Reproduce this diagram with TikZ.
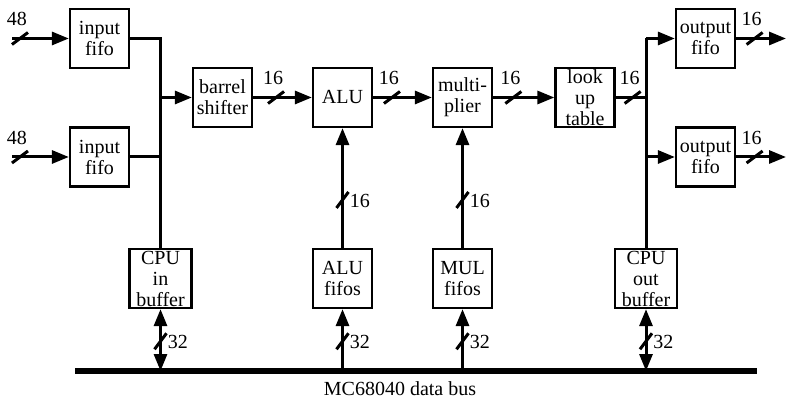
\documentclass[tikz,border=0pt]{standalone}
\usepackage{fontspec}
\setmainfont{Liberation Serif}
\usetikzlibrary{arrows.meta,positioning,calc}
\tikzset{
  unit/.style={draw,line width=1.15pt,minimum width=29.5pt,minimum height=29.5pt,
    inner sep=0pt,align=center,font=\fontsize{10pt}{10.5pt}\selectfont},
  wire/.style={line width=1.5pt},
  arr/.style={wire,-{Triangle[length=8.5pt,width=6.5pt]}},
  biarr/.style={wire,{Triangle[length=8.5pt,width=6.5pt]}-{Triangle[length=8.5pt,width=6.5pt]}},
  tick/.style={line width=1.5pt},
  lbl/.style={inner sep=0pt,font=\fontsize{10pt}{10.5pt}\selectfont},
}
\newcommand{\HTick}[2]{%
  \draw[tick] ($(#1)+(-8,6)$) -- ($(#1)+(8,-6)$);%
  \node[lbl,anchor=base] at ($(#1)+(-3,-12.5)$) {#2};%
}
\newcommand{\VTick}[2]{%
  \draw[tick] ($(#1)+(-6,8)$) -- ($(#1)+(6,-8)$);%
  \node[lbl,anchor=west] at ($(#1)+(7,1)$) {#2};%
}

\begin{document}
\begin{tikzpicture}[x=0.5pt,y=-0.5pt]
\useasboundingbox (0,0) rectangle (786,400);
% boxes
\node[unit] (inA) at (99.5,38.5) {input\\fifo};
\node[unit] (inB) at (99.5,157) {input\\fifo};
\node[unit] (barrel) at (222.5,97.5) {barrel\\shifter};
\node[unit] (alu) at (342.5,97.5) {ALU};
\node[unit] (mult) at (462.5,97.5) {multi-\\plier};
\node[unit] (lut) at (585,97.5) {look\\up\\table};
\node[unit] (outA) at (705.5,38.5) {output\\fifo};
\node[unit] (outB) at (705.5,157) {output\\fifo};
\node[unit,minimum width=31pt] (cpuin) at (160.5,278.5) {CPU\\in\\buffer};
\node[unit] (alufifo) at (342.5,278.5) {ALU\\fifos};
\node[unit] (mulfifo) at (462.5,278.5) {MUL\\fifos};
\node[unit,minimum width=31pt] (cpuout) at (646,278.5) {CPU\\out\\buffer};
% bus
\coordinate (busL) at (75,371);
\coordinate (busR) at (757,371);
\draw[line width=3pt] (busL) -- (busR);
\node[lbl,anchor=base] (buslbl) at (400,395) {MC68040 data bus};
% inputs
\coordinate (srcA) at (12,38.5);
\coordinate (srcB) at (12,157);
\draw[arr] (srcA) -- coordinate[pos=0.14] (tA) (inA.west);
\draw[arr] (srcB) -- coordinate[pos=0.14] (tB) (inB.west);
\HTick{tA}{48}
\HTick{tB}{48}
\draw[wire] (inA.east) -| (cpuin.north);
\draw[wire] (inB.east) -- (inB.east -| cpuin.north);
\coordinate (splitL) at (cpuin.north |- barrel.west);
\draw[arr] (splitL) -- (barrel.west);
% pipeline
\draw[arr] (barrel.east) -- coordinate[pos=0.39] (t1) (alu.west);
\draw[arr] (alu.east) -- coordinate[pos=0.32] (t2) (mult.west);
\draw[arr] (mult.east) -- coordinate[pos=0.33] (t3) (lut.west);
\draw[wire] (lut.east) -- coordinate[pos=0.56] (t4) (lut.east -| cpuout.north);
\HTick{t1}{16}
\HTick{t2}{16}
\HTick{t3}{16}
\HTick{t4}{16}
% outputs
\coordinate (splitA) at (outA.west -| cpuout.north);
\coordinate (splitB) at (outB.west -| cpuout.north);
\draw[wire] (splitA) -- (cpuout.north);
\draw[arr] (splitA) -- (outA.west);
\draw[arr] (splitB) -- (outB.west);
\coordinate (dstA) at (786,38.5);
\coordinate (dstB) at (786,157);
\draw[arr] (outA.east) -- coordinate[pos=0.37] (t5) (dstA);
\draw[arr] (outB.east) -- coordinate[pos=0.37] (t6) (dstB);
\HTick{t5}{16}
\HTick{t6}{16}
% fifo feeds
\draw[arr] (alufifo.north) -- coordinate[pos=0.4] (t7) (alu.south);
\draw[arr] (mulfifo.north) -- coordinate[pos=0.4] (t8) (mult.south);
\VTick{t7}{16}
\VTick{t8}{16}
% bus taps
\draw[biarr] (cpuin.south |- busL) -- coordinate[pos=0.48] (b1) (cpuin.south);
\draw[arr] (alufifo.south |- busL) -- coordinate[pos=0.48] (b2) (alufifo.south);
\draw[arr] (mulfifo.south |- busL) -- coordinate[pos=0.48] (b3) (mulfifo.south);
\draw[biarr] (cpuout.south |- busL) -- coordinate[pos=0.48] (b4) (cpuout.south);
\VTick{b1}{32}
\VTick{b2}{32}
\VTick{b3}{32}
\VTick{b4}{32}
\end{tikzpicture}
\end{document}
